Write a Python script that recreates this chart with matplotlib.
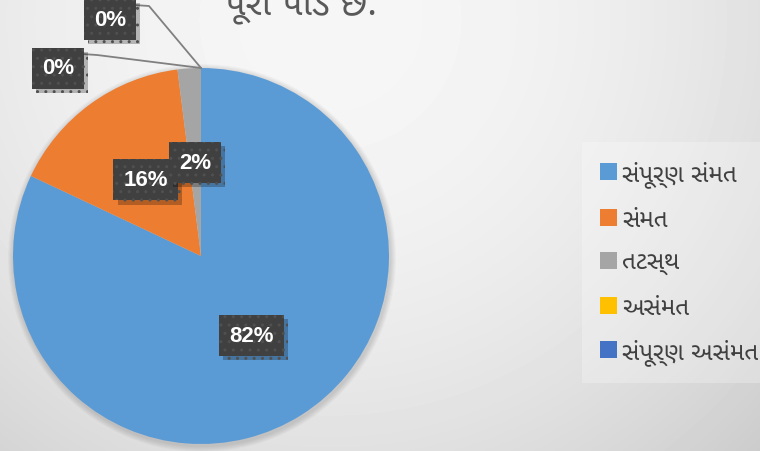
import numpy as np
import matplotlib
matplotlib.use("Agg")
import matplotlib.pyplot as plt
from matplotlib import patheffects

# data
labels = ["સંપૂર્ણ સંમત", "સંમત", "તટસ્થ", "અસંમત", "સંપૂર્ણ અસંમત"]
values = [82, 16, 2, 0, 0]
colors = ["#5b9bd5", "#ed7d31", "#a5a5a5", "#ffc000", "#4472c4"]
title = "પૂરી પાડે છે."

W, H = 760, 452
guj = ["Noto Sans Gujarati UI", "DejaVu Sans"]

fig = plt.figure(figsize=(W / 100, H / 100), dpi=100)

# background: soft radial gradient
bg = fig.add_axes([0, 0, 1, 1])
yy, xx = np.mgrid[0:H, 0:W]
d2 = (xx - 330) ** 2 + (yy - 20) ** 2
shade = np.clip(246 - 1.14e-4 * d2, 150, 255) / 255
bg.imshow(shade, cmap="gray", vmin=0, vmax=1, extent=[0, W, 0, H], aspect="auto")
bg.axis("off")

# pie in pixel-like data coordinates
ax = fig.add_axes([0, 0, 1, 1])
ax.patch.set_visible(False)
cx, cy, r = 201, H - 257, 188

# faint shadow under the pie
for k in range(6):
    ax.add_patch(plt.Circle((cx + 1, cy - 2), r + 6 - k, color="black", alpha=0.025, lw=0))

wedges, _ = ax.pie(values, colors=colors, startangle=90, counterclock=False,
                   center=(cx, cy), radius=r, frame=True,
                   wedgeprops=dict(linewidth=0))
ax.set_xlim(0, W)
ax.set_ylim(0, H)
ax.set_aspect("auto")
ax.axis("off")

box = dict(boxstyle="square,pad=0.45", facecolor="#404040", edgecolor="#505050",
           hatch="..", linewidth=0)


def put_label(x, y, s):
    t = ax.text(x, y, s, color="white", fontsize=16, fontweight="bold",
                family="Liberation Sans", ha="center", va="center", bbox=box)
    t.get_bbox_patch().set_path_effects([
        patheffects.SimplePatchShadow(offset=(3, -3), shadow_rgbFace="black", alpha=0.25),
        patheffects.Normal()])


total = sum(values)
# offsets of the two 0% labels from the point where their slices sit
leader_off = [None, None, None, (-143, 0), (-91, 49)]
for i, (w, v) in enumerate(zip(wedges, values)):
    mid = np.deg2rad((w.theta1 + w.theta2) / 2)
    if v > 0:
        put_label(cx + 0.5 * r * np.cos(mid), cy + 0.5 * r * np.sin(mid),
                  "%d%%" % round(100 * v / total))
    else:
        tx, ty = cx + r * np.cos(mid), cy + r * np.sin(mid)
        ox, oy = leader_off[i]
        lx, ly = tx + ox, ty + oy
        ax.plot([tx, lx + 39, lx + 24], [ty, ly + 13, ly + 14], color="#808080", lw=1.3)
        put_label(lx, ly, "0%")

# title (mostly cut off at the top, as in the source)
fig.text(301, H - 15, title, transform=None, fontsize=26, color="#595959",
         family=guj, ha="center", va="baseline")

leg = fig.legend(wedges, labels, loc="upper left", bbox_to_anchor=(582 / W, 1 - 143 / H),
                 prop=dict(family=guj, size=17.5), labelcolor="#404040",
                 frameon=True, fancybox=False, handlelength=0.7, handleheight=0.7,
                 handletextpad=0.2, labelspacing=0.8, borderpad=0.75, borderaxespad=0)
leg.get_frame().set_facecolor("white")
leg.get_frame().set_alpha(0.25)
leg.get_frame().set_edgecolor("none")

fig.savefig("out.png", dpi=100)
